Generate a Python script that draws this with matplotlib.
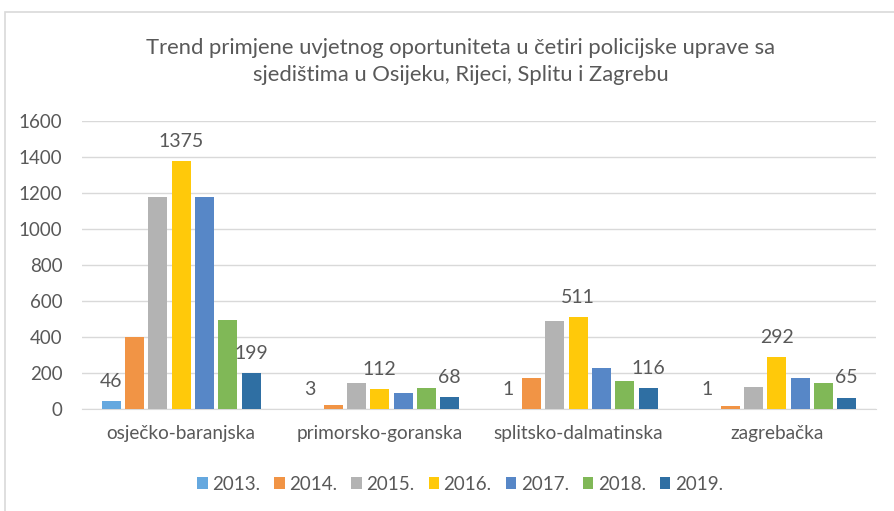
import numpy as np
import matplotlib.pyplot as plt
from matplotlib.patches import Rectangle

# Données
uprave = ["osječko-baranjska", "primorsko-goranska", "splitsko-dalmatinska", "zagrebačka"]
godine = ["2013.", "2014.", "2015.", "2016.", "2017.", "2018.", "2019."]
v2013 = [46, 3, 1, 1]
v2014 = [402, 24, 175, 17]
v2015 = [1178, 146, 489, 122]
v2016 = [1375, 112, 511, 292]
v2017 = [1178, 91, 228, 173]
v2018 = [495, 119, 155, 148]
v2019 = [199, 68, 116, 65]
serije = [v2013, v2014, v2015, v2016, v2017, v2018, v2019]
s_oznakom = ["2013.", "2016.", "2019."]

boje = ["#65A8DF", "#F19445", "#B3B3B3", "#FFC90A", "#5787C7", "#80B857", "#2F6FA3"]
siva = "#595959"

plt.rcParams['font.family'] = ['Lato', 'DejaVu Sans']

fig = plt.figure(figsize=(8.95, 5.11), dpi=100)
# okvir grafikona
fig.patches.append(Rectangle((5.5 / 895, -0.1), 2, 1.1 - 12.5 / 511, transform=fig.transFigure,
                             fill=False, edgecolor="#D9D9D9", linewidth=1.2))

ax = fig.add_axes([82 / 895, (511 - 409.3) / 511, 794 / 895, 288.6 / 511])
x = np.arange(len(uprave))
korak = 0.1173
sirina = 0.0956
for i, (god, vr) in enumerate(zip(godine, serije)):
    pos = x + (i - 3) * korak
    bars = ax.bar(pos, vr, width=sirina, color=boje[i], label=god, zorder=3)
    if god in s_oznakom:
        ax.bar_label(bars, padding=8, fontsize=14, color=siva)

ax.set_xlim(-0.5, len(uprave) - 0.5)
ax.set_ylim(0, 1600)
ax.set_yticks(range(0, 1601, 200))
ax.set_xticks(x)
ax.set_xticklabels(uprave)
ax.yaxis.grid(True, color="#D9D9D9", linewidth=1)
ax.set_axisbelow(True)
for s in ["top", "right", "left"]:
    ax.spines[s].set_visible(False)
ax.spines["bottom"].set_color("#D9D9D9")
ax.tick_params(axis="both", length=0, colors=siva)
ax.tick_params(axis="x", pad=11, labelsize=13.7)
ax.tick_params(axis="y", pad=14, labelsize=13.5)

fig.text(461 / 895, 1 - 61.5 / 511,
         "Trend primjene uvjetnog oportuniteta u četiri policijske uprave sa\nsjedištima u Osijeku, Rijeci, Splitu i Zagrebu",
         ha="center", va="center", fontsize=15.8, color=siva, linespacing=1.45)

fig.legend(loc="center", bbox_to_anchor=(460 / 895, 1 - 484 / 511), ncol=7, frameon=False,
           fontsize=13.5, labelcolor=siva, handlelength=0.55, handleheight=0.55,
           handletextpad=0.25, columnspacing=0.75)

fig.savefig("out.png", dpi=100)
